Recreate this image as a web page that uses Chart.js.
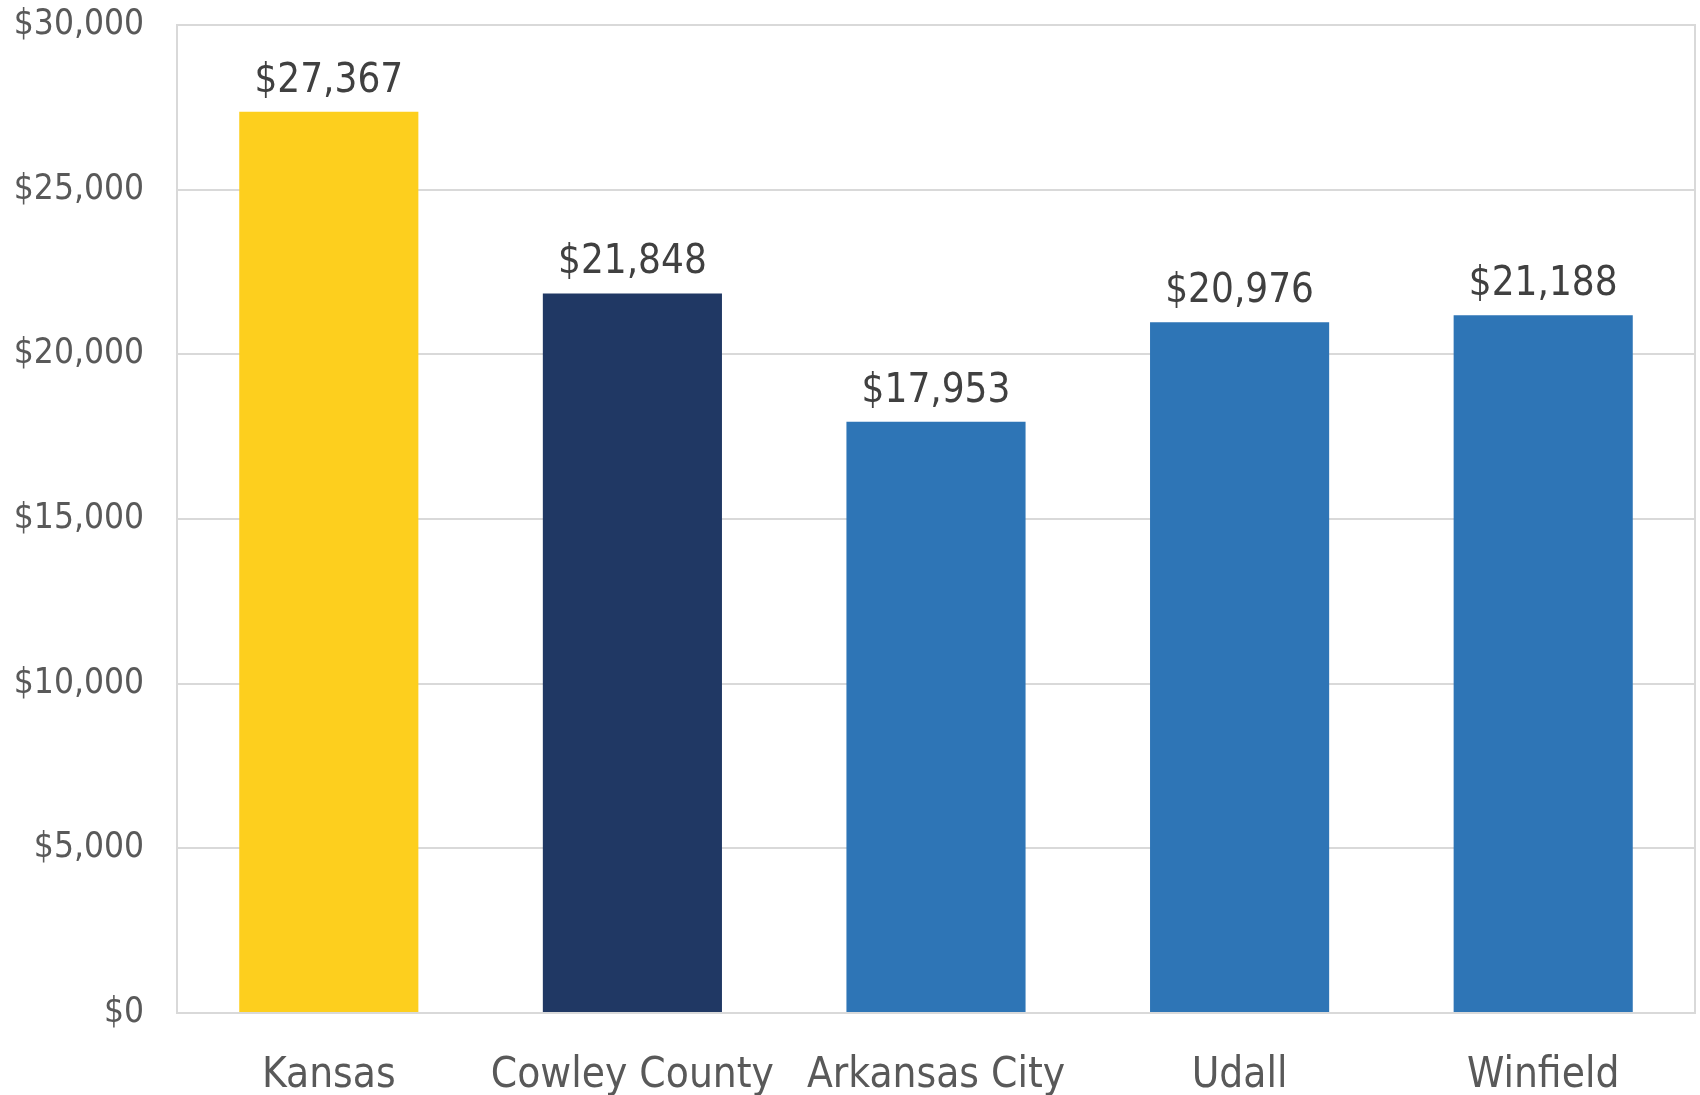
<!DOCTYPE html>
<html>
<head>
<meta charset="utf-8">
<script src="https://cdn.jsdelivr.net/npm/chart.js@4"></script>
<style>
    html, body { margin: 0; padding: 0; background: #fff; }
    #wrap { width: 1700px; height: 1095px; }
</style>
</head>
<body>
<div id="wrap"><canvas id="incomeChart"></canvas></div>
<script>
"use strict";

const places = ["Kansas", "Cowley County", "Arkansas City", "Udall", "Winfield"];
const incomes = [27367, 21848, 17953, 20976, 21188];
const barColors = ["#FDCF1E", "#203864", "#2E75B6", "#2E75B6", "#2E75B6"];
const yTicks = [0, 5000, 10000, 15000, 20000, 25000, 30000];

const fontFamily = "'DejaVu Sans Condensed', 'Liberation Sans Narrow', sans-serif";
const money = (v) => "$" + v.toLocaleString("en-US");

// frame round the plot area (top and right sides too)
const framePlugin = {
    id: "frame",
    beforeDatasetsDraw(chart) {
        const { ctx, chartArea: a } = chart;
        ctx.save();
        ctx.strokeStyle = "#d9d9d9";
        ctx.lineWidth = 2;
        ctx.strokeRect(a.left, a.top, a.right - a.left, a.bottom - a.top);
        ctx.restore();
    }
};

// value labels above the bars
const valueLabels = {
    id: "valueLabels",
    afterDatasetsDraw(chart) {
        const { ctx } = chart;
        const meta = chart.getDatasetMeta(0);
        ctx.save();
        ctx.font = "40px " + fontFamily;
        ctx.fillStyle = "#404040";
        ctx.textAlign = "center";
        ctx.textBaseline = "alphabetic";
        meta.data.forEach((bar, i) => {
            ctx.fillText(money(incomes[i]), bar.x, bar.y - 20);
        });
        ctx.restore();
    }
};

new Chart(document.getElementById("incomeChart"), {
    type: "bar",
    data: {
        labels: places,
        datasets: [{
            data: incomes,
            backgroundColor: barColors,
            barPercentage: 0.59,
            categoryPercentage: 1
        }]
    },
    options: {
        responsive: true,
        maintainAspectRatio: false,
        animation: false,
        layout: { padding: { top: 0, right: 5, left: 0, bottom: 0 } },
        plugins: {
            legend: { display: false },
            tooltip: { enabled: false }
        },
        scales: {
            x: {
                grid: { display: false },
                border: { color: "#d9d9d9", width: 2 },
                ticks: {
                    color: "#595959",
                    font: { family: fontFamily, size: 42 },
                    padding: 30,
                    maxRotation: 0,
                    autoSkip: false
                },
                afterFit: (scale) => {
                    scale.height = 82;
                    scale.paddingLeft = 0;
                    scale.paddingRight = 0;
                }
            },
            y: {
                min: 0,
                max: 30000,
                afterBuildTicks: (scale) => { scale.ticks = yTicks.map((v) => ({ value: v })); },
                grid: { color: "#d9d9d9", lineWidth: 2, drawTicks: false },
                border: { color: "#d9d9d9", width: 2 },
                ticks: {
                    color: "#595959",
                    font: { family: fontFamily, size: 35 },
                    padding: 33,
                    callback: (v) => money(v)
                },
                afterFit: (scale) => {
                    scale.width = 177;
                    scale.paddingTop = 25;
                    scale.paddingBottom = 0;
                }
            }
        }
    },
    plugins: [framePlugin, valueLabels]
});
</script>
</body>
</html>
